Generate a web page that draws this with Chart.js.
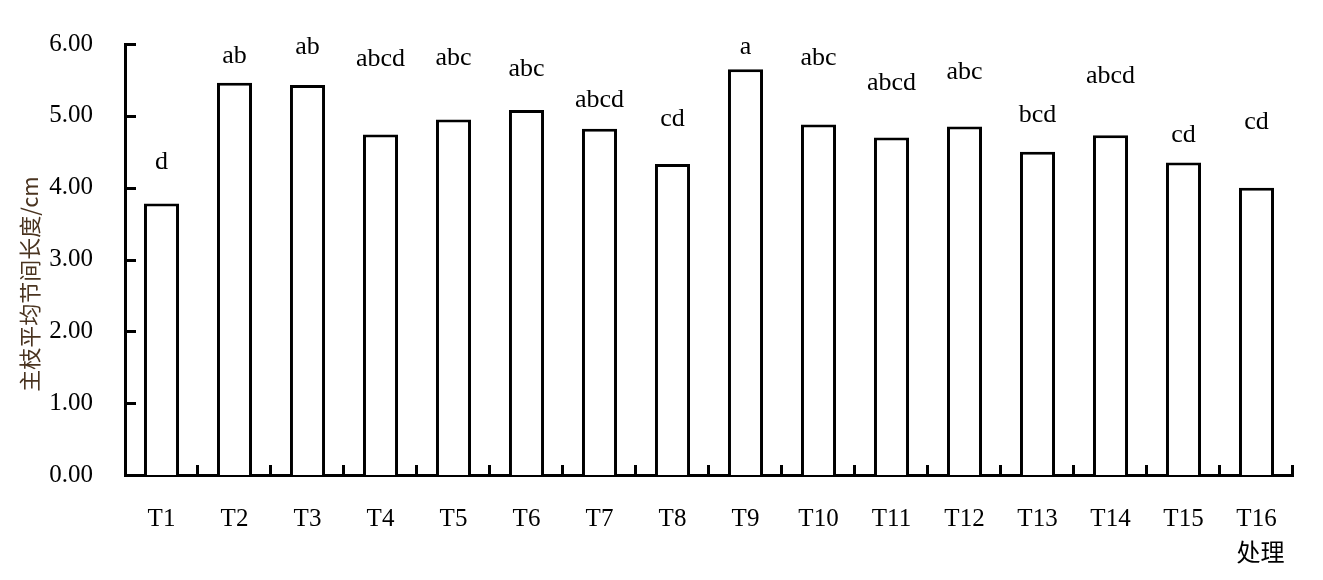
<!DOCTYPE html>
<html>
<head>
<meta charset="utf-8">
<script src="https://cdn.jsdelivr.net/npm/chart.js@4.4.1/dist/chart.umd.min.js"></script>
<style>
  html, body { margin: 0; padding: 0; background: #fff; }
  #wrap { width: 1323px; height: 580px; position: relative; }
</style>
</head>
<body>
<div id="wrap"><canvas id="chart"></canvas></div>
<script>
// 处理
const CATEGORIES = ['T1','T2','T3','T4','T5','T6','T7','T8',
                    'T9','T10','T11','T12','T13','T14','T15','T16'];
// 主枝平均节间长度 (cm)
const MEANS = [3.78, 5.46, 5.43, 4.74, 4.95, 5.08, 4.82, 4.33,
               5.65, 4.88, 4.70, 4.85, 4.50, 4.73, 4.35, 4.00];
// significance letters and where they sit (value units, baseline)
const LETTERS = ['d','ab','ab','abcd','abc','abc','abcd','cd',
                 'a','abc','abcd','abc','bcd','abcd','cd','cd'];
const LETTER_POS = [4.26, 5.73, 5.86, 5.69, 5.71, 5.55, 5.12, 4.86,
                    5.86, 5.71, 5.36, 5.51, 4.91, 5.46, 4.63, 4.81];
const Y_TICKS = [0, 1, 2, 3, 4, 5, 6];

const SERIF = '"Liberation Serif", "DejaVu Serif", serif';
const CJK   = '"Noto Sans CJK SC", "Liberation Serif", serif';

/* ---------- ticks drawn inward + letters + titles ---------- */
const decor = {
  id: 'decor',
  afterDraw(chart) {
    const {ctx, chartArea: a, scales: {x, y}} = chart;
    ctx.save();
    ctx.strokeStyle = '#000';
    ctx.lineWidth = 3;
    // y ticks, pointing into the plot
    Y_TICKS.slice(1).forEach(v => {
      const py = Math.round(y.getPixelForValue(v)) + 0.5;
      ctx.beginPath();
      ctx.moveTo(a.left, py);
      ctx.lineTo(a.left + 11, py);
      ctx.stroke();
    });
    // x ticks at category boundaries, pointing up
    const step = (a.right - a.left) / CATEGORIES.length;
    for (let i = 1; i <= CATEGORIES.length; i++) {
      const px = Math.round(a.left + i * step) - 0.5;
      ctx.beginPath();
      ctx.moveTo(px, a.bottom);
      ctx.lineTo(px, a.bottom - 10);
      ctx.stroke();
    }
    // significance letters
    ctx.fillStyle = '#000';
    ctx.font = '26px ' + SERIF;
    ctx.textAlign = 'center';
    ctx.textBaseline = 'alphabetic';
    LETTERS.forEach((t, i) => {
      ctx.fillText(t, x.getPixelForValue(i), y.getPixelForValue(LETTER_POS[i]));
    });
    // y title
    ctx.save();
    ctx.translate(30, 284);
    ctx.rotate(-Math.PI / 2);
    ctx.fillStyle = '#4a3420';
    ctx.font = '22px ' + CJK;
    ctx.textBaseline = 'middle';
    ctx.fillText('主枝平均节间长度/cm', 0, 0);
    ctx.restore();
    // x title
    ctx.font = '24px ' + CJK;
    ctx.textBaseline = 'middle';
    ctx.fillText('处理', x.getPixelForValue(15) + 4, 552);
    ctx.restore();
  }
};

new Chart(document.getElementById('chart'), {
  type: 'bar',
  data: {
    labels: CATEGORIES,
    datasets: [{
      data: MEANS,
      backgroundColor: '#fff',
      borderColor: '#000',
      borderWidth: 3,
      categoryPercentage: 1,
      barPercentage: 0.48
    }]
  },
  options: {
    responsive: true,
    maintainAspectRatio: false,
    animation: false,
    devicePixelRatio: 1,
    layout: { padding: { left: 0, top: 44, right: 30, bottom: 0 } },
    plugins: { legend: { display: false }, tooltip: { enabled: false } },
    scales: {
      x: {
        offset: true,
        grid: { display: false, drawTicks: false },
        border: { display: true, color: '#000', width: 3 },
        ticks: { color: '#000', font: { family: SERIF, size: 25 }, padding: 29, maxRotation: 0 },
        afterFit(s) { s.height = 105; s.paddingLeft = 0; s.paddingRight = 0; }
      },
      y: {
        min: 0, max: 6,
        grid: { display: false, drawTicks: false },
        border: { display: true, color: '#000', width: 3 },
        afterBuildTicks(s) { s.ticks = Y_TICKS.map(v => ({ value: v })); },
        ticks: {
          color: '#000', font: { family: SERIF, size: 25 }, padding: 32,
          callback: v => Number(v).toFixed(2)
        },
        afterFit(s) { s.width = 125; s.paddingTop = 0; s.paddingBottom = 0; }
      }
    }
  },
  plugins: [decor]
});
</script>
</body>
</html>
